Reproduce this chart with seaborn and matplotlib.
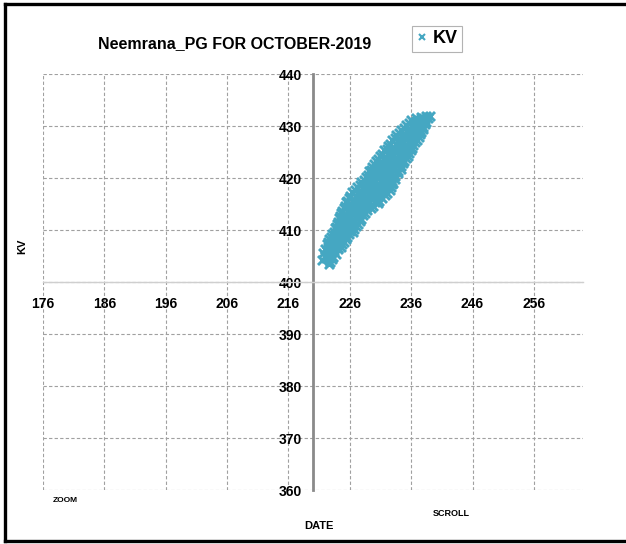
import matplotlib
matplotlib.use("Agg")
import matplotlib.pyplot as plt
from matplotlib.lines import Line2D
import seaborn as sns
import pandas as pd

# Bus voltage readings (x, kV), listed band by band from the low end up
x_vals = [
    221.4, 222.1, 222.8,
    221.9, 222.6, 223.1,
    221.6, 222.4, 223.2,
    222.2, 223.0, 223.7,
    221.9, 222.7, 223.5, 224.0,
    222.5, 223.3, 224.1,
    222.3, 223.1, 223.9, 224.5,
    222.5, 223.3, 224.1, 224.8,
    222.6, 223.4, 224.2, 225.0,
    223.0, 223.8, 224.6, 225.3,
    223.1, 223.9, 224.7, 225.6,
    223.4, 224.2, 225.0, 225.8,
    223.6, 224.4, 225.2, 226.0, 226.5,
    223.7, 224.5, 225.3, 226.1, 226.7,
    223.9, 224.7, 225.5, 226.3, 227.0,
    224.1, 224.9, 225.7, 226.5, 227.3,
    224.2, 225.0, 225.8, 226.7, 227.6,
    224.4, 225.2, 226.1, 227.0, 227.8,
    224.6, 225.4, 226.3, 227.2, 228.1,
    224.8, 225.7, 226.6, 227.5, 228.4,
    225.0, 225.9, 226.8, 227.7, 228.8,
    225.2, 226.1, 227.0, 227.9, 228.8, 229.5,
    225.4, 226.3, 227.2, 228.1, 229.0, 229.8,
    225.6, 226.5, 227.4, 228.3, 229.2, 230.1, 230.6,
    225.8, 226.7, 227.6, 228.5, 229.4, 230.3, 230.8,
    226.1, 227.0, 227.9, 228.8, 229.7, 230.6, 231.3,
    226.4, 227.3, 228.2, 229.1, 230.0, 230.9, 231.7,
    226.8, 227.7, 228.6, 229.5, 230.4, 231.3, 232.1,
    227.2, 228.1, 229.0, 229.9, 230.8, 231.7, 232.5,
    227.6, 228.5, 229.4, 230.3, 231.2, 232.1, 232.7,
    227.9, 228.8, 229.7, 230.6, 231.5, 232.3, 232.9,
    228.3, 229.2, 230.1, 231.0, 231.9, 232.8, 233.1,
    228.7, 229.6, 230.5, 231.4, 232.3, 233.3,
    228.9, 229.8, 230.7, 231.6, 232.5, 233.4,
    229.1, 230.0, 230.9, 231.8, 232.7, 233.8,
    229.4, 230.3, 231.2, 232.1, 233.0, 233.9,
    229.6, 230.5, 231.4, 232.3, 233.2, 234.3,
    229.9, 230.8, 231.7, 232.6, 233.5, 234.4,
    230.2, 231.1, 232.0, 232.9, 233.8, 234.7,
    230.6, 231.5, 232.4, 233.3, 234.2, 234.9,
    230.9, 231.8, 232.7, 233.6, 234.5, 235.2,
    231.3, 232.2, 233.1, 234.0, 234.8, 235.4,
    231.6, 232.5, 233.4, 234.3, 235.1, 235.6,
    232.0, 232.9, 233.8, 234.7, 235.5, 235.9,
    232.3, 233.2, 234.1, 235.0, 236.1,
    232.6, 233.5, 234.4, 235.3, 236.3,
    232.9, 233.8, 234.7, 235.6, 236.6,
    233.3, 234.2, 235.1, 236.0, 236.9,
    233.6, 234.5, 235.4, 236.3, 237.2,
    234.0, 234.9, 235.8, 236.7, 237.4,
    234.4, 235.3, 236.2, 237.0, 237.6,
    234.8, 235.7, 236.6, 237.4, 237.9,
    235.2, 236.1, 237.0, 238.0,
    235.6, 236.5, 237.4, 238.2,
    235.9, 236.8, 237.7, 238.4,
    236.8, 237.6, 238.3,
    237.6, 238.4, 238.8,
    222.6, 239.0,
]
kv_vals = [
    404.2, 404.7, 403.9,
    405.0, 404.7, 404.4,
    405.5, 405.1, 404.8,
    405.9, 405.6, 405.4,
    406.4, 406.0, 405.9, 406.3,
    406.8, 406.5, 406.6,
    407.3, 406.9, 407.2, 406.8,
    407.7, 407.5, 407.6, 407.3,
    408.2, 407.8, 408.1, 407.7,
    408.6, 408.4, 408.6, 408.3,
    409.2, 408.8, 409.1, 408.7,
    409.6, 409.3, 409.5, 409.2,
    410.3, 409.9, 410.1, 409.8, 409.6,
    410.6, 410.4, 410.6, 410.3, 410.2,
    411.2, 410.8, 411.1, 410.9, 410.7,
    411.6, 411.4, 411.6, 411.3, 411.2,
    412.3, 411.9, 412.1, 411.8, 411.7,
    412.6, 412.4, 412.6, 412.3, 412.2,
    413.2, 412.8, 413.1, 412.9, 412.8,
    413.6, 413.4, 413.6, 413.3, 413.2,
    414.2, 413.8, 414.1, 413.9, 413.8,
    414.6, 414.4, 414.6, 414.3, 414.5, 414.2,
    415.3, 414.9, 415.1, 414.8, 415.0, 414.7,
    415.6, 415.4, 415.6, 415.3, 415.5, 415.4, 415.2,
    416.2, 415.8, 416.1, 415.9, 416.2, 415.8, 415.6,
    416.6, 416.4, 416.6, 416.3, 416.5, 416.4, 416.2,
    417.3, 416.9, 417.1, 416.8, 417.2, 416.9, 416.7,
    417.6, 417.4, 417.6, 417.3, 417.5, 417.4, 417.2,
    418.2, 417.8, 418.1, 417.9, 418.2, 417.8, 417.7,
    418.6, 418.4, 418.6, 418.3, 418.5, 418.4, 418.2,
    419.3, 418.9, 419.1, 418.8, 419.2, 418.9, 418.8,
    419.6, 419.4, 419.6, 419.3, 419.5, 419.4, 419.1,
    420.2, 419.8, 420.1, 419.9, 420.2, 419.8,
    420.6, 420.4, 420.6, 420.3, 420.5, 420.3,
    421.3, 420.9, 421.1, 420.8, 421.2, 420.9,
    421.6, 421.4, 421.6, 421.3, 421.5, 421.3,
    422.2, 421.8, 422.1, 421.9, 422.2, 421.8,
    422.6, 422.4, 422.6, 422.3, 422.5, 422.3,
    423.3, 422.9, 423.1, 422.8, 423.2, 422.9,
    423.6, 423.4, 423.6, 423.3, 423.5, 423.3,
    424.2, 423.8, 424.1, 423.9, 424.2, 423.8,
    424.6, 424.4, 424.6, 424.3, 424.5, 424.3,
    425.3, 424.9, 425.1, 424.8, 425.2, 424.9,
    425.6, 425.4, 425.6, 425.3, 425.5, 425.3,
    426.2, 425.8, 426.1, 425.9, 425.8,
    426.6, 426.4, 426.6, 426.3, 426.4,
    427.3, 426.9, 427.1, 426.8, 426.9,
    427.6, 427.4, 427.6, 427.3, 427.4,
    428.2, 427.8, 428.1, 427.9, 427.8,
    428.6, 428.4, 428.6, 428.3, 428.4,
    429.3, 428.9, 429.1, 428.8, 428.9,
    429.6, 429.4, 429.6, 429.3, 429.4,
    430.2, 429.8, 430.1, 429.8,
    430.6, 430.4, 430.6, 430.3,
    431.2, 430.9, 431.1, 430.8,
    431.5, 431.3, 431.4,
    431.8, 431.9, 431.5,
    403.5, 432.0,
]

x_ticks = [176, 186, 196, 206, 216, 226, 236, 246, 256]
y_ticks = [360, 370, 380, 390, 400, 410, 420, 430, 440]

sns.set_style("white")
plt.rcParams["font.family"] = ["Liberation Sans", "DejaVu Sans"]
plt.rcParams["font.weight"] = "bold"
plt.rcParams["text.color"] = "black"
plt.rcParams["xtick.color"] = "black"
plt.rcParams["ytick.color"] = "black"

W, H = 626, 544
fig = plt.figure(figsize=(W / 100, H / 100), dpi=100)
ax = fig.add_axes([43 / W, 1 - 490 / H, (583 - 43) / W, (490 - 74) / H])

df = pd.DataFrame({"x": x_vals, "KV": kv_vals})
teal = "#45A7C2"
sns.scatterplot(data=df, x="x", y="KV", marker="x", s=42, color=teal,
                linewidth=2.1, ax=ax, legend=False, zorder=3)

ax.set_xlim(176, 264)
ax.set_ylim(360, 440)
ax.set_xticks(x_ticks)
ax.set_yticks(y_ticks)
ax.set_xlabel("")
ax.set_ylabel("")

ax.grid(True, color="#a0a0a0", linestyle=(0, (3, 2)), linewidth=0.8)
ax.set_axisbelow(True)

# Axes cross in the middle of the plotting area
ax.spines["left"].set_position(("data", 220))
ax.spines["bottom"].set_position(("data", 400))
ax.spines["top"].set_visible(False)
ax.spines["right"].set_visible(False)
ax.spines["left"].set_color("#8a8a8a")
ax.spines["left"].set_linewidth(2.0)
ax.spines["bottom"].set_color("#cfcfcf")
ax.spines["bottom"].set_linewidth(1.0)

ax.tick_params(axis="both", length=0, labelsize=10, labelcolor="black")
ax.tick_params(axis="x", pad=11)
ax.tick_params(axis="y", pad=8)
for lbl in ax.get_xticklabels() + ax.get_yticklabels():
    lbl.set_fontweight("bold")

fig.text(235 / W, 1 - 44 / H, "Neemrana_PG FOR OCTOBER-2019",
         ha="center", va="center", fontsize=11.5, fontweight="bold")
fig.text(22 / W, 1 - 246 / H, "KV", rotation=90, ha="center", va="center",
         fontsize=8, fontweight="bold")
fig.text(319 / W, 1 - 526 / H, "DATE", ha="center", va="center",
         fontsize=8, fontweight="bold")
fig.text(65 / W, 1 - 500 / H, "ZOOM", ha="center", va="center",
         fontsize=6, fontweight="bold")
fig.text(451 / W, 1 - 513 / H, "SCROLL", ha="center", va="center",
         fontsize=6.5, fontweight="bold")

handle = Line2D([], [], marker="x", linestyle="none", color=teal,
                markersize=4, markeredgewidth=1.5)
leg = fig.legend([handle], ["KV"], loc="center",
                 bbox_to_anchor=(437 / W, 1 - 39 / H), frameon=True,
                 fancybox=False, handlelength=0.6, handletextpad=0.3,
                 borderpad=0.25, prop={"size": 13, "weight": "bold"})
leg.get_frame().set_edgecolor("#a0a0a0")
leg.get_frame().set_linewidth(0.8)

# Outer frame (left, top, bottom edges)
for xs, ys in [([5 / W, 5 / W], [1 - 4 / H, 1 - 541 / H]),
               ([5 / W, 1.0], [1 - 4 / H, 1 - 4 / H]),
               ([5 / W, 1.0], [1 - 541 / H, 1 - 541 / H])]:
    fig.add_artist(Line2D(xs, ys, color="black", linewidth=2.4,
                          solid_capstyle="projecting"))

fig.savefig("out.png", dpi=100)
